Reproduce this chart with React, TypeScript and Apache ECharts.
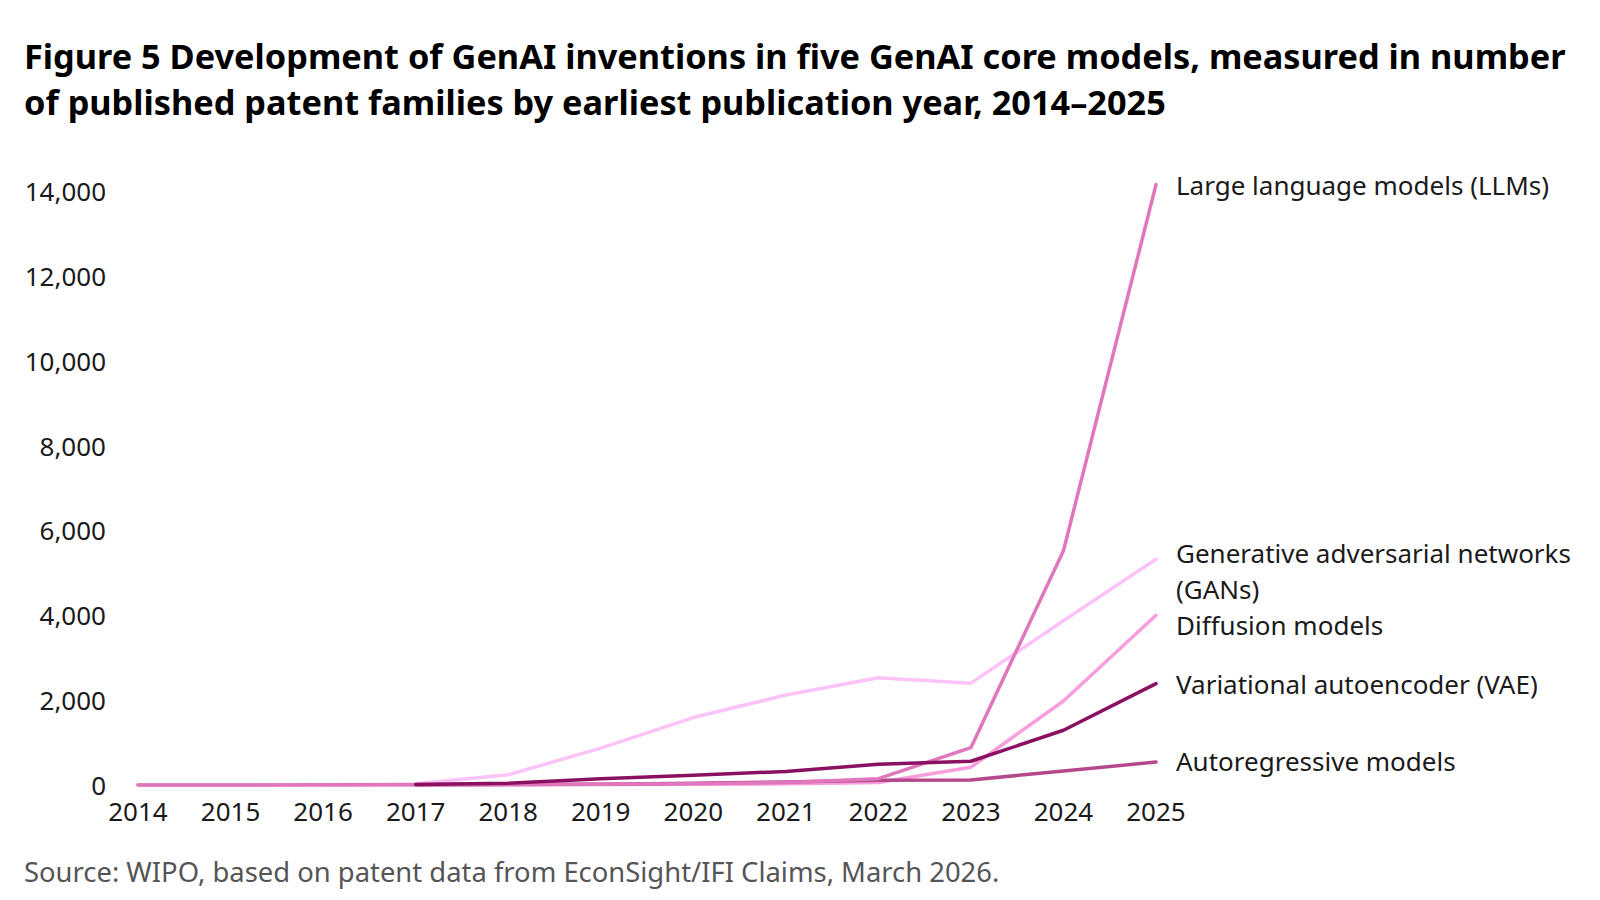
import React, { useEffect, useRef } from "react";
import * as echarts from "echarts";

const years = ["2014", "2015", "2016", "2017", "2018", "2019", "2020", "2021", "2022", "2023", "2024", "2025"];
const ganValues = [null, null, null, 30, 240, 870, 1590, 2120, 2530, 2400, 3870, 5320];
const diffusionValues = [0, 0, 0, 0, 5, 10, 15, 30, 60, 420, 1980, 4000];
const autoregressiveValues = [null, null, null, 5, 10, 20, 40, 70, 110, 120, 330, 540];
const llmValues = [0, 0, 5, 10, 15, 20, 30, 60, 150, 880, 5520, 14150];
const vaeValues = [null, null, null, 10, 40, 150, 230, 320, 490, 560, 1290, 2390];

const seriesNames = [
  "Generative adversarial networks\n(GANs)",
  "Diffusion models",
  "Autoregressive models",
  "Large language models (LLMs)",
  "Variational autoencoder (VAE)",
];
const seriesColors = ["#fcc3f8", "#f99ddc", "#b5488d", "#e077bd", "#8a1162"];
const seriesData = [ganValues, diffusionValues, autoregressiveValues, llmValues, vaeValues];
const labelOffsets = [[0, 11.5], [0, 9.5], [0, -1], [0, 0], [0, 0]];
const labelLineHeights = [35.5, 35, 35, 35, 35];

const titleText =
  "Figure 5 Development of GenAI inventions in five GenAI core models, measured in number\nof published patent families by earliest publication year, 2014–2025";
const sourceText = "Source: WIPO, based on patent data from EconSight/IFI Claims, March 2026.";

const FONT = "'Noto Sans', 'Open Sans', sans-serif";

export default function App() {
  const ref = useRef<HTMLDivElement>(null);
  useEffect(() => {
    document.body.style.margin = "0";
    if (!ref.current) return;
    const chart = echarts.init(ref.current, null, { renderer: "svg" });
    chart.setOption({
      animation: false,
      backgroundColor: "#ffffff",
      textStyle: { fontFamily: FONT },
      title: {
        text: titleText,
        left: 19,
        top: 27,
        textStyle: {
          fontFamily: FONT,
          fontWeight: "bold",
          fontSize: 34.3,
          lineHeight: 46,
          color: "#000000",
        },
      },
      graphic: [
        {
          type: "text",
          left: 24,
          top: 858,
          style: {
            text: sourceText,
            font: `27.4px ${FONT}`,
            fill: "#555555",
          },
        },
      ],
      grid: { left: 138, right: 444, top: 191, bottom: 115, containLabel: false },
      xAxis: {
        type: "category",
        data: years,
        boundaryGap: false,
        axisLine: { show: false },
        axisTick: { show: false },
        axisLabel: { color: "#1a1a1a", fontSize: 26, margin: 13, fontFamily: FONT },
        splitLine: { show: false },
      },
      yAxis: {
        type: "value",
        min: 0,
        max: 14000,
        interval: 2000,
        axisLine: { show: false },
        axisTick: { show: false },
        splitLine: { show: false },
        axisLabel: {
          color: "#1a1a1a",
          fontSize: 26,
          margin: 32,
          fontFamily: FONT,
          formatter: (v: number) => v.toLocaleString("en-US"),
        },
      },
      series: seriesNames.map((name, i) => ({
        name,
        type: "line",
        data: seriesData[i],
        clip: false,
        symbol: "none",
        connectNulls: false,
        lineStyle: { color: seriesColors[i], width: 3.5, cap: "round", join: "round" },
        itemStyle: { color: seriesColors[i] },
        endLabel: {
          show: true,
          formatter: name,
          distance: 20,
          offset: labelOffsets[i],
          color: "#1a1a1a",
          fontSize: 26,
          lineHeight: labelLineHeights[i],
          fontFamily: FONT,
        },
        emphasis: { disabled: true },
      })),
    });
    return () => chart.dispose();
  }, []);
  return <div ref={ref} style={{ width: 1600, height: 900 }} />;
}
